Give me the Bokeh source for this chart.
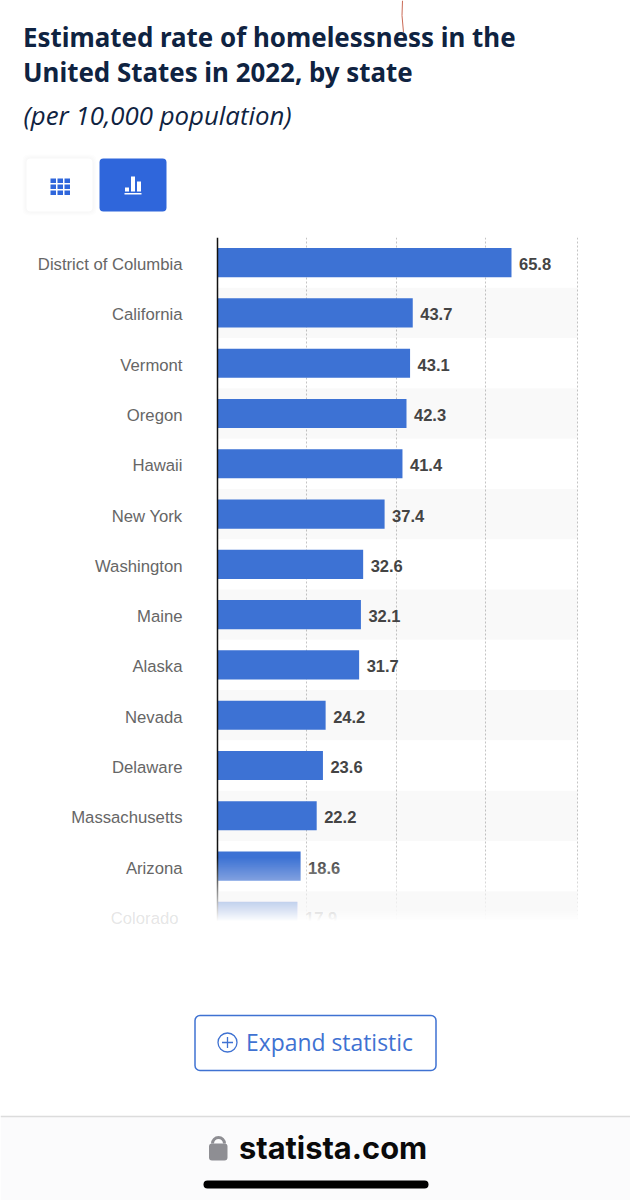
from bokeh.plotting import figure
from bokeh.layouts import column
from bokeh.models import Range1d, FixedTicker, BoxAnnotation, ColumnDataSource, LinearAxis
from bokeh.core.properties import value
from bokeh.embed import file_html
from bokeh.resources import INLINE

states = ["District of Columbia", "California", "Vermont", "Oregon", "Hawaii", "New York",
          "Washington", "Maine", "Alaska", "Nevada", "Delaware", "Massachusetts", "Arizona", "Colorado"]
rates = [65.8, 43.7, 43.1, 42.3, 41.4, 37.4, 32.6, 32.1, 31.7, 24.2, 23.6, 22.2, 18.6, 17.9]
grid_ticks = [20, 40, 60, 80.6]
title_lines = ["Estimated rate of homelessness in the", "United States in 2022, by state"]
subtitle = "(per 10,000 population)"

W = 630
CHART_TOP, CHART_BOTTOM = 237, 941
ROW_H = (CHART_BOTTOM - CHART_TOP) / 14
BLUE, BTN = "#3d72d4", "#2f66db"
NAVY = "#0f2341"
PX_PER_UNIT = 4.468


def page_fig(top, bottom):
    p = figure(width=W, height=bottom - top, x_range=Range1d(0, W), y_range=Range1d(bottom, top),
               output_backend="svg", toolbar_location=None, min_border=0, frame_align=False,
               x_axis_location=None, y_axis_location=None, outline_line_color=None, background_fill_color="white")
    p.grid.visible = False
    return p


def txt(p, x, y, s, font, size, color, style="normal", align="left"):
    p.text([x], [y], text=[s], text_font=value(font), text_font_size=size, text_color=color,
           text_font_style=style, text_align=align, text_baseline="middle")


# header
h = page_fig(0, CHART_TOP)
h.line([402, 401.5, 403], [0, 15, 32], line_color="#c96a55", line_width=1)
txt(h, 22.5, 36.5, title_lines[0], "Noto Sans", "25.9px", NAVY, "bold")
txt(h, 22.5, 71.5, title_lines[1], "Noto Sans", "25.9px", NAVY, "bold")
txt(h, 23, 114, subtitle, "Open Sans", "25.8px", NAVY, "italic")
for i in range(5):
    h.quad(left=[26 - i], right=[92 + i], top=[158 - i], bottom=[211 + i], fill_color="#000000", fill_alpha=0.008,
           line_color=None, border_radius=5)
h.quad(left=[26], right=[92], top=[158], bottom=[211], fill_color="white", line_color=None, border_radius=4)
h.quad(left=[99], right=[166], top=[158], bottom=[211], fill_color=BTN, line_color=None, border_radius=4)
for r in range(3):
    for c in range(3):
        h.quad(left=[50 + c * 7], right=[55.5 + c * 7], top=[178 + r * 6], bottom=[182.5 + r * 6],
               fill_color=BTN, line_color=None)
for l, r_, t in [(124.5, 128.5, 187), (130.5, 134.5, 176), (136.5, 140.5, 181)]:
    h.quad(left=[l], right=[r_], top=[t], bottom=[191], fill_color="white", line_color=None)
h.quad(left=[124], right=[141], top=[192.5], bottom=[194], fill_color="white", line_color=None)

# chart
n = len(states)
FRAME_L, FRAME_R = 215, 579
p = figure(width=W, height=CHART_BOTTOM - CHART_TOP,
           x_range=Range1d(-(217 - FRAME_L) / PX_PER_UNIT, (FRAME_R - 217) / PX_PER_UNIT),
           y_range=Range1d(n - 0.5, -0.5), frame_align=False,
           output_backend="svg", toolbar_location=None, outline_line_color=None,
           min_border_left=FRAME_L, min_border_right=W - FRAME_R, min_border_top=0, min_border_bottom=0,
           x_axis_location=None, background_fill_color="white")
idx = list(range(n))
src = ColumnDataSource(dict(y=idx, state=states, rate=rates, label=[f"{v:.1f}" for v in rates]))
p.xgrid.ticker = FixedTicker(ticks=grid_ticks)
p.ygrid.visible = False
p.xgrid.grid_line_color = "#c4c4c4"
p.xgrid.grid_line_dash = "2 2"
p.xgrid.grid_line_width = 1
p.hbar(y=[i for i in idx if i % 2], left=0, right=grid_ticks[-1], height=1, fill_color="#000000", fill_alpha=0.022,
       line_color=None)
p.hbar(y="y", left=0, right="rate", height=0.58, source=src, fill_color=BLUE, line_color=None)
p.segment(x0=[0], x1=[0], y0=[-0.5], y1=[n - 0.5], line_color="#111111", line_width=1.5)
p.text(x="rate", y="y", text="label", source=src, x_offset=7.5, y_offset=1.5, text_font=value("Liberation Sans"),
       text_font_size="16.5px", text_font_style="bold", text_color="#444444", text_baseline="middle")
LABEL_SHIFT = 0.04
tick_pos = [i + LABEL_SHIFT for i in idx]


def style_axis(ax, standoff, alpha):
    ax.major_tick_line_color = None
    ax.minor_tick_line_color = None
    ax.axis_line_color = None
    ax.major_label_standoff = standoff
    ax.major_label_text_font = "Liberation Sans"
    ax.major_label_text_font_size = "16.7px"
    ax.major_label_text_color = "#666666"
    ax.major_label_text_alpha = alpha


yax = p.yaxis[0]
yax.ticker = FixedTicker(ticks=tick_pos[:-1])
yax.major_label_overrides = dict(zip(tick_pos[:-1], states[:-1]))
style_axis(yax, 27, 1.0)

# the row that the fade cuts off gets its own faint axis label
fade_ax = LinearAxis(ticker=FixedTicker(ticks=tick_pos[-1:]), major_label_overrides={tick_pos[-1]: states[-1]})
style_axis(fade_ax, -150, 0.18)
p.add_layout(fade_ax, "left")

# bottom fade of the scrolling chart: overlapping boxes, each adding a little more white
stops = [(858, 0.0), (880, 0.35), (903, 0.72), (922, 1.0)]


def alpha_at(py):
    for (a, va), (b, vb) in zip(stops, stops[1:]):
        if a <= py <= b:
            return va + (vb - va) * (py - a) / (b - a)
    return 1.0


to_y = lambda py: (py - CHART_TOP) / ROW_H - 0.5
prev = 0.0
for py in range(858, 922, 2):
    a = alpha_at(py + 2)
    inc = 1 - (1 - a) / (1 - prev) if prev < 1 else 1
    prev = a
    p.add_layout(BoxAnnotation(left=-1, right=90, top=to_y(py), bottom=to_y(941.5), fill_color="white",
                               fill_alpha=inc, line_color=None, level="overlay"))

# footer
f = page_fig(CHART_BOTTOM, 1200)
f.quad(left=[0], right=[W], top=[1116], bottom=[1200], fill_color="#fbfbfc", line_color=None)
f.line([0, W], [1116, 1116], line_color="#dcdcdc", line_width=1.5)
f.quad(left=[194.5], right=[435.5], top=[1015], bottom=[1070], fill_color="white", line_color="#3f72d2",
       line_width=1.5, border_radius=5)
f.circle([227], [1042], radius=9.5, fill_color=None, line_color="#3f72d2", line_width=1.3)
f.line([221.5, 232.5], [1042, 1042], line_color="#3f72d2", line_width=1.3)
f.line([227, 227], [1036.5, 1047.5], line_color="#3f72d2", line_width=1.3)
txt(f, 245.5, 1042, "Expand statistic", "Open Sans", "22.9px", "#3f72d2")
f.quad(left=[208.5], right=[227], top=[1143], bottom=[1160], fill_color="#8e8e93", line_color=None, border_radius=3)
f.arc([218], [1143], radius=6, start_angle=0, end_angle=3.1416, line_color="#8e8e93", line_width=3)
txt(f, 238.5, 1147, "statista.com", "Inter", "30.8px", "#0a0a0a", "bold")
f.quad(left=[203], right=[428], top=[1180], bottom=[1188], fill_color="#000000", line_color=None, border_radius=4)

layout = column(h, p, f, spacing=0)
open("out.html", "w").write(file_html(layout, INLINE))
